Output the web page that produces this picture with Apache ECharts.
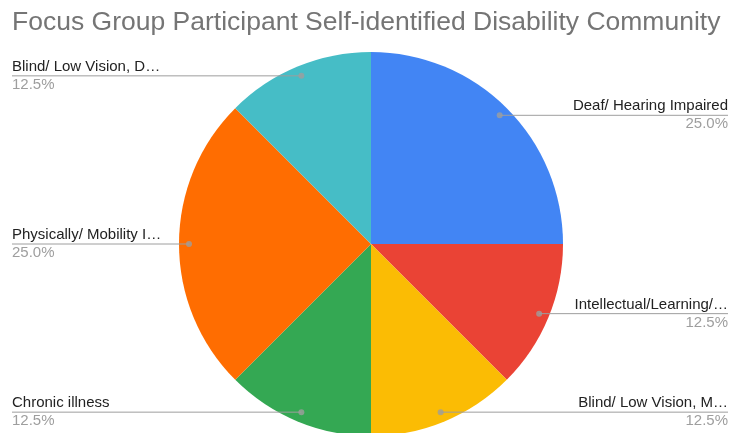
<!DOCTYPE html>
<html><head><meta charset="utf-8">
<script src="https://cdn.jsdelivr.net/npm/echarts@6/dist/echarts.min.js"></script>
<style>html,body{margin:0;padding:0;background:#fff}#c{width:730px;height:433px}</style>
</head><body><div id="c"></div>
<script>
var categories = ["Deaf/ Hearing Impaired", "Intellectual/Learning/…", "Blind/ Low Vision, M…", "Chronic illness", "Physically/ Mobility I…", "Blind/ Low Vision, D…"];
var values = [2, 1, 1, 1, 2, 1];
var colors = ["#4285F4", "#EA4335", "#FBBC04", "#34A853", "#FF6D01", "#46BDC6"];

var CX = 371, CY = 244, R = 192, RD = 182;
var total = values.reduce(function (a, b) { return a + b; }, 0);
var cum = 0, dots = [];
values.forEach(function (v) { dots.push([RD, (cum + v / 2) / total * 360]); cum += v; });

var pieData = categories.map(function (n, i) { return { name: n, value: values[i], itemStyle: { color: colors[i] } }; });
var F = '"Liberation Sans", Arial, sans-serif';
var chart = echarts.init(document.getElementById('c'));
chart.setOption({
  animation: false,
  title: { text: 'Focus Group Participant Self-identified Disability Community', left: 7, top: 4,
    textStyle: { fontFamily: F, fontSize: 26.5, fontWeight: 'normal', color: '#757575' } },
  polar: { center: [CX, CY], radius: R },
  angleAxis: { type: 'value', min: 0, max: 360, startAngle: 90, clockwise: true, show: false },
  radiusAxis: { type: 'value', min: 0, max: R, show: false },
  series: [
    { type: 'pie', center: [CX, CY], radius: [0, R], startAngle: 90, clockwise: true, silent: true,
      label: { show: false }, labelLine: { show: false }, itemStyle: { borderWidth: 0 }, data: pieData, z: 1 },
    { type: 'pie', center: [CX, CY], radius: [0, RD], startAngle: 90, clockwise: true, silent: true,
      avoidLabelOverlap: false,
      itemStyle: { color: 'rgba(0,0,0,0)', borderWidth: 0 },
      label: { show: true, position: 'outside',
        formatter: function (p) { return '{n|' + p.name + '}\n{p|' + p.percent.toFixed(1) + '%}'; },
        rich: { n: { fontFamily: F, fontSize: 15, color: '#222222', lineHeight: 18 },
                p: { fontFamily: F, fontSize: 15, color: '#9e9e9e', lineHeight: 18 } } },
      labelLine: { show: true, length: 0, length2: 10, lineStyle: { color: '#9e9e9e', width: 1 } },
      labelLayout: function (p) {
        var pts = p.labelLinePoints;
        var isLeft = pts[2][0] < pts[0][0];
        var ex = isLeft ? 12 : 728;
        return { x: ex, y: pts[0][1], align: isLeft ? 'left' : 'right', verticalAlign: 'middle',
          labelLinePoints: [pts[0], pts[0], [ex, pts[0][1]]] };
      },
      data: pieData.map(function (d) { return { name: d.name, value: d.value }; }), z: 2 },
    { type: 'scatter', coordinateSystem: 'polar', symbol: 'circle', symbolSize: 6, silent: true,
      itemStyle: { color: '#9e9e9e' }, data: dots, z: 5 }
  ]
});
</script></body></html>
